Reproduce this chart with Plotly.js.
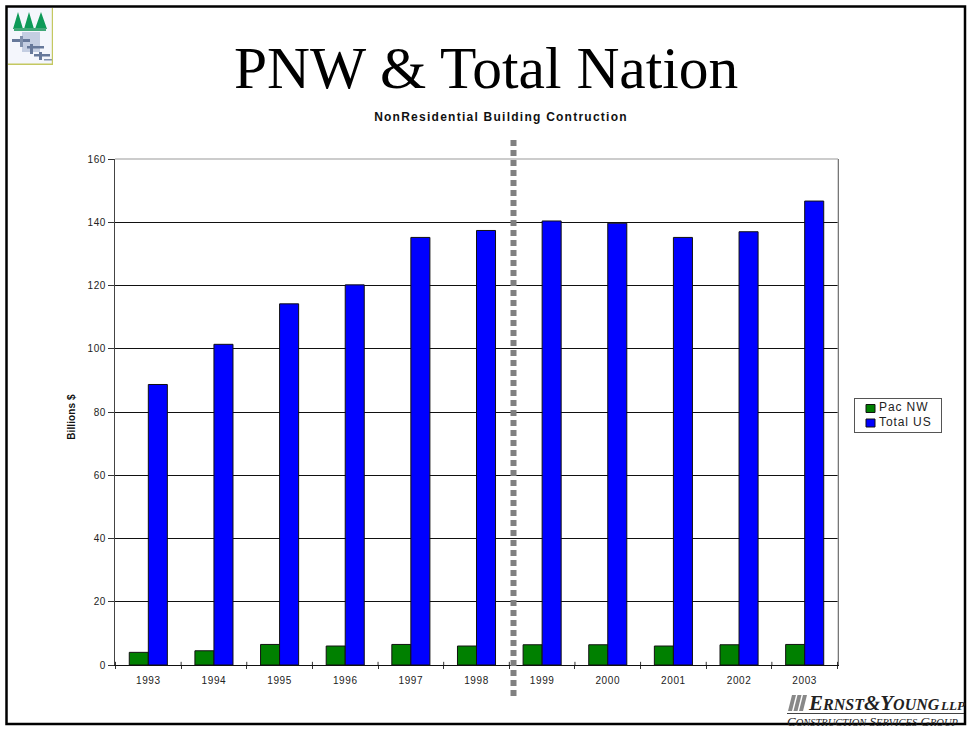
<!DOCTYPE html>
<html><head><meta charset="utf-8">
<script src="https://cdn.plot.ly/plotly-3.0.1.min.js"></script>
<style>
html,body{margin:0;padding:0;background:#fff;overflow:hidden}
#c{width:968px;height:730px}
.xtick text,.ytick text{letter-spacing:0.6px}
.legendtext{letter-spacing:0.9px}
.annotation[data-index="1"] text{letter-spacing:1.25px}
.g-ytitle{transform:translate(2px,5px)}
.ytitle{letter-spacing:0.1px}
</style></head><body><div id="c"></div>
<script>
const years=['1993','1994','1995','1996','1997','1998','1999','2000','2001','2002','2003'];
const pacNW=[4,4.5,6.5,6,6.5,6,6.4,6.4,6,6.4,6.5];
const totalUS=[88.7,101.4,114.2,120.2,135.2,137.4,140.4,139.7,135.2,137,146.7];
const titleText='PNW &amp; Total Nation';
const subtitleText='NonResidential Building Contruction';
const yTitle='Billions $';

const W=968,H=730,L=115,R=838,T=159,B=665;
const px=x=>(x-L)/(R-L), py=y=>(B-y)/(B-T);
const logoSvg=`<svg xmlns="http://www.w3.org/2000/svg" width="45" height="57" viewBox="0 0 45 57">
<defs><filter id="b" x="-10%" y="-10%" width="120%" height="120%"><feGaussianBlur stdDeviation="0.75"/></filter></defs>
<rect width="45" height="57" fill="#f4f6fc"/>
<g filter="url(#b)">
<path d="M10 4l5 17h-10zM21 4l5 17h-10zM33 4l6 17h-12z" fill="#109a58"/>
<rect x="6" y="20" width="32" height="3" fill="#40a878"/>
<rect x="14" y="24" width="18" height="20" fill="#c4cee2"/>
<rect x="4" y="31" width="18" height="3" fill="#66789a"/>
<rect x="12" y="28" width="3" height="11" fill="#8090ac"/>
<rect x="19" y="38" width="17" height="2.5" fill="#66789a"/>
<rect x="22" y="36" width="3" height="10" fill="#66789a"/>
<rect x="26" y="46" width="16" height="2.5" fill="#66789a"/>
<rect x="31" y="44" width="3" height="8" fill="#66789a"/>
<rect x="36" y="51" width="8" height="1.5" fill="#8090ac"/>
</g>
<rect x="0" y="55.5" width="45" height="1.5" fill="#c4c860"/>
<rect x="43.8" y="0" width="1.2" height="57" fill="#c4c860"/>
</svg>`;
const images=[{source:'data:image/svg+xml;base64,'+btoa(logoSvg),xref:'paper',yref:'paper',x:px(8),y:py(8),sizex:45/(R-L),sizey:57/(B-T),xanchor:'left',yanchor:'top',sizing:'stretch',layer:'above'}];
const shapes=[
 {type:'line',xref:'paper',yref:'paper',x0:px(513.5),x1:px(513.5),y0:py(140),y1:py(697),line:{color:'#808080',width:6,dash:'6px,4px'}},
 {type:'line',xref:'paper',yref:'paper',x0:0,x1:1,y0:1,y1:1,line:{color:'#999',width:1}},
 {type:'line',xref:'paper',yref:'paper',x0:1,x1:1,y0:0,y1:1,line:{color:'#aaa',width:1}},
 // outer frame
 {type:'rect',xref:'paper',yref:'paper',x0:px(6.5),x1:px(965),y0:py(6.5),y1:py(724),line:{color:'#000',width:2.5},layer:'above'},
 {type:'line',xref:'paper',yref:'paper',x0:px(787),x1:px(964),y0:py(713.5),y1:py(713.5),line:{color:'#111',width:0.8}},
 // EY bars
 ...[0,1,2].map(i=>({type:'path',xref:'paper',yref:'paper',
   path:`M${px(788+i*5.5)},${py(711)} L${px(792+i*5.5)},${py(711)} L${px(796+i*5.5)},${py(695)} L${px(792+i*5.5)},${py(695)} Z`,fillcolor:'#888',line:{width:0}})),
 // category ticks rising above the axis
 ...years.concat(['']).map((_,i)=>({type:'line',xref:'x',yref:'y',x0:i-0.5,x1:i-0.5,y0:0,y1:1,line:{color:'#333',width:1}}))
];
const annotations=[
 {xref:'paper',yref:'paper',x:px(486.5),y:py(68),xanchor:'center',yanchor:'middle',showarrow:false,text:titleText,font:{family:'Liberation Serif',size:59.5,color:'#000'}},
 {xref:'paper',yref:'paper',x:px(500.5),y:py(117),xanchor:'center',yanchor:'middle',showarrow:false,text:'<b>'+subtitleText+'</b>',font:{family:'Liberation Sans',size:12,color:'#111'}},
 {xref:'paper',yref:'paper',x:px(806),y:py(703),xanchor:'left',yanchor:'middle',showarrow:false,text:'<b><i>E<span style="font-size:16px">RNST</span>&amp;Y<span style="font-size:16px">OUNG</span>\u200a<span style="font-size:13px">LLP</span></i></b>',font:{family:'Liberation Serif',size:21,color:'#222'}},
 {xref:'paper',yref:'paper',x:px(785),y:py(721),xanchor:'left',yanchor:'middle',showarrow:false,text:'<i>C<span style="font-size:10.5px">ONSTRUCTION</span> S<span style="font-size:10.5px">ERVICES</span> G<span style="font-size:10.5px">ROUP</span></i>',font:{family:'Liberation Serif',size:13,color:'#222'}}
];
const trace=(name,y,color)=>({type:'bar',name,x:years,y,marker:{color,line:{color:'#111',width:1}}});
Plotly.newPlot('c',[trace('Pac NW',pacNW,'#008000'),trace('Total US',totalUS,'#0000ff')],{
 width:W,height:H,margin:{l:L,r:W-R,t:T,b:H-B,pad:0},
 paper_bgcolor:'#fff',plot_bgcolor:'#fff',
 barmode:'group',bargap:0.42,bargroupgap:0,
 font:{family:'Liberation Sans',size:10,color:'#222'},
 xaxis:{type:'category',categoryorder:'array',categoryarray:years,tickson:'boundaries',ticks:'outside',ticklen:3,tickcolor:'#333',tickwidth:1,
   showgrid:false,zeroline:false,showline:true,linecolor:'#111',linewidth:1,tickfont:{size:10},ticklabelstandoff:6},
 yaxis:{range:[0,160],dtick:20,ticks:'outside',ticklen:6,tickcolor:'#333',showgrid:true,gridcolor:'#111',gridwidth:1,zeroline:true,zerolinecolor:'#111',
   showline:true,linecolor:'#444',linewidth:1,mirror:true,tickfont:{size:10},
   title:{text:'<b>'+yTitle+'</b>',standoff:12,font:{size:10,color:'#111'}}},
 legend:{x:px(853.5),y:py(397.5),xanchor:'left',yanchor:'top',bgcolor:'#fff',bordercolor:'#555',borderwidth:1,font:{size:12,color:'#222'},itemwidth:30,tracegroupgap:0},
 shapes,annotations,images
},{staticPlot:true,displayModeBar:false}).then(()=>{
 // compact the native legend to the reference's tight box
 const lg=document.querySelector('.legend');
 const bg=lg.querySelector('.bg');
 bg.setAttribute('width',87.5);bg.setAttribute('height',34.5);
 const clip=document.querySelector('clipPath[id^="legend"] rect');
 if(clip){clip.setAttribute('width',88);clip.setAttribute('height',35);}
 const rows=lg.querySelectorAll('.traces');
 [11,25.5].forEach((y,i)=>{
  const r=rows[i];
  r.setAttribute('transform',`translate(0,${y})`);
  const t=r.querySelector('.legendtext');
  t.setAttribute('x',25.5);
  t.setAttribute('y',2.5);
  const p=r.querySelector('.legendbar path, .legendpoints path');
  if(p){p.setAttribute('d','M4.5,4H-4.5V-4H4.5Z');p.setAttribute('transform','translate(17,0)');}
 });
});
</script></body></html>
